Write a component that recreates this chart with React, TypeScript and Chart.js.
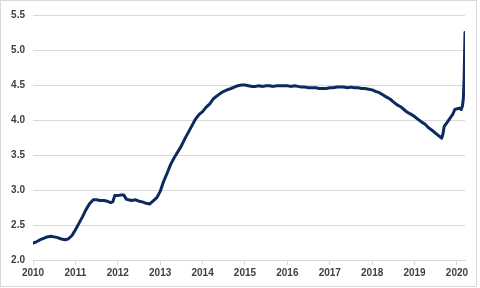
import React, { useEffect, useRef } from "react";
import { Chart, registerables } from "chart.js";

Chart.register(...registerables);

// Decimal-year positions of the readings
const dates: number[] = [
  2010.0, 2010.08, 2010.17, 2010.25, 2010.33, 2010.42, 2010.5, 2010.58, 2010.67, 2010.75, 2010.83, 2010.92,
  2011.0, 2011.08, 2011.17, 2011.25, 2011.33, 2011.42, 2011.5, 2011.58, 2011.67, 2011.75, 2011.83, 2011.88, 2011.93,
  2012.0, 2012.08, 2012.14, 2012.2, 2012.25, 2012.33, 2012.42, 2012.5, 2012.58, 2012.67, 2012.75, 2012.83, 2012.92,
  2013.0, 2013.08, 2013.17, 2013.25, 2013.33, 2013.42, 2013.5, 2013.58, 2013.67, 2013.75, 2013.83, 2013.92,
  2014.0, 2014.08, 2014.17, 2014.25, 2014.33, 2014.42, 2014.5, 2014.58, 2014.67, 2014.75, 2014.83, 2014.92,
  2015.0, 2015.08, 2015.17, 2015.25, 2015.33, 2015.42, 2015.5, 2015.58, 2015.67, 2015.75, 2015.83, 2015.92,
  2016.0, 2016.08, 2016.17, 2016.25, 2016.33, 2016.42, 2016.5, 2016.58, 2016.67, 2016.75, 2016.83, 2016.92,
  2017.0, 2017.08, 2017.17, 2017.25, 2017.33, 2017.42, 2017.5, 2017.58, 2017.67, 2017.75, 2017.83, 2017.92,
  2018.0, 2018.08, 2018.17, 2018.25, 2018.33, 2018.42, 2018.5, 2018.58, 2018.67, 2018.75, 2018.83, 2018.92,
  2019.0, 2019.08, 2019.17, 2019.25, 2019.33, 2019.42, 2019.5, 2019.58, 2019.64, 2019.67, 2019.7, 2019.75, 2019.83, 2019.9, 2019.95,
  2020.0, 2020.06, 2020.1, 2020.13, 2020.15, 2020.17, 2020.19,
];

// Series values
const values: number[] = [
  2.24, 2.26, 2.29, 2.31, 2.33, 2.34, 2.33, 2.32, 2.3, 2.29, 2.3, 2.35,
  2.43, 2.52, 2.62, 2.72, 2.8, 2.86, 2.86, 2.85, 2.85, 2.84, 2.82, 2.83, 2.92,
  2.92, 2.93, 2.93, 2.87, 2.86, 2.85, 2.86, 2.84, 2.83, 2.81, 2.8, 2.84, 2.89,
  2.98, 3.12, 3.25, 3.37, 3.46, 3.55, 3.63, 3.73, 3.83, 3.92, 4.01, 4.08,
  4.12, 4.18, 4.23, 4.3, 4.34, 4.38, 4.41, 4.43, 4.45, 4.47, 4.49, 4.5,
  4.5, 4.49, 4.48, 4.48, 4.49, 4.48, 4.49, 4.49, 4.48, 4.49, 4.49, 4.49,
  4.49, 4.48, 4.49, 4.48, 4.47, 4.47, 4.46, 4.46, 4.46, 4.45, 4.45, 4.45,
  4.46, 4.46, 4.47, 4.47, 4.47, 4.46, 4.47, 4.46, 4.46, 4.45, 4.45, 4.44,
  4.43, 4.41, 4.39, 4.36, 4.33, 4.3, 4.26, 4.22, 4.19, 4.15, 4.11, 4.08,
  4.05, 4.01, 3.97, 3.94, 3.89, 3.85, 3.81, 3.77, 3.74, 3.8, 3.91, 3.95, 4.02, 4.08, 4.15,
  4.16, 4.17, 4.15, 4.2, 4.3, 4.6, 5.25,
];

const yTicks: number[] = [2.0, 2.5, 3.0, 3.5, 4.0, 4.5, 5.0, 5.5];
const xTickYears: number[] = [2010, 2011, 2012, 2013, 2014, 2015, 2016, 2017, 2018, 2019, 2020];

export default function App() {
  const ref = useRef<HTMLCanvasElement>(null);

  useEffect(() => {
    if (!ref.current) return;
    const points = dates.map((d, i) => ({ x: d, y: values[i] }));
    const font = { family: "'Liberation Sans', Arial, sans-serif", size: 10, weight: "bold" as const };
    const chart = new Chart(ref.current, {
      type: "line",
      data: {
        datasets: [
          {
            data: points,
            borderColor: "#0c2a5e",
            borderWidth: 3,
            pointRadius: 0,
            tension: 0,
            borderJoinStyle: "round",
            borderCapStyle: "round",
          },
        ],
      },
      options: {
        animation: false,
        responsive: false,
        maintainAspectRatio: false,
        layout: { padding: { left: 0, right: 11, top: 13, bottom: 0 } },
        plugins: { legend: { display: false }, tooltip: { enabled: false } },
        scales: {
          x: {
            type: "linear",
            min: 2010,
            max: 2020.19,
            afterBuildTicks: (scale: any) => {
              scale.ticks = xTickYears.map((v) => ({ value: v }));
            },
            afterFit: (scale: any) => {
              scale.height = 26;
            },
            border: { display: true, color: "#d9d9d9", width: 1 },
            grid: { drawOnChartArea: false, drawTicks: true, tickLength: 5, color: "#d9d9d9" },
            ticks: {
              color: "#404040",
              font,
              padding: 2,
              maxRotation: 0,
              autoSkip: false,
              callback: (v: any) => String(v),
            },
          },
          y: {
            min: 2.0,
            max: 5.5,
            afterBuildTicks: (scale: any) => {
              scale.ticks = yTicks.map((v) => ({ value: v }));
            },
            afterFit: (scale: any) => {
              scale.width = 32;
            },
            border: { display: false },
            grid: { drawTicks: false, color: "#d9d9d9", lineWidth: 1 },
            ticks: {
              color: "#404040",
              font,
              padding: 8,
              callback: (v: any) => Number(v).toFixed(1),
            },
          },
        },
      },
    });
    return () => chart.destroy();
  }, []);

  return (
    <div
      style={{
        position: "fixed",
        left: 0,
        top: 0,
        width: 477,
        height: 287,
        border: "1px solid #d9d9d9",
        boxSizing: "border-box",
        background: "#fff",
      }}
    >
      <canvas ref={ref} width={475} height={285} style={{ display: "block" }} />
    </div>
  );
}
